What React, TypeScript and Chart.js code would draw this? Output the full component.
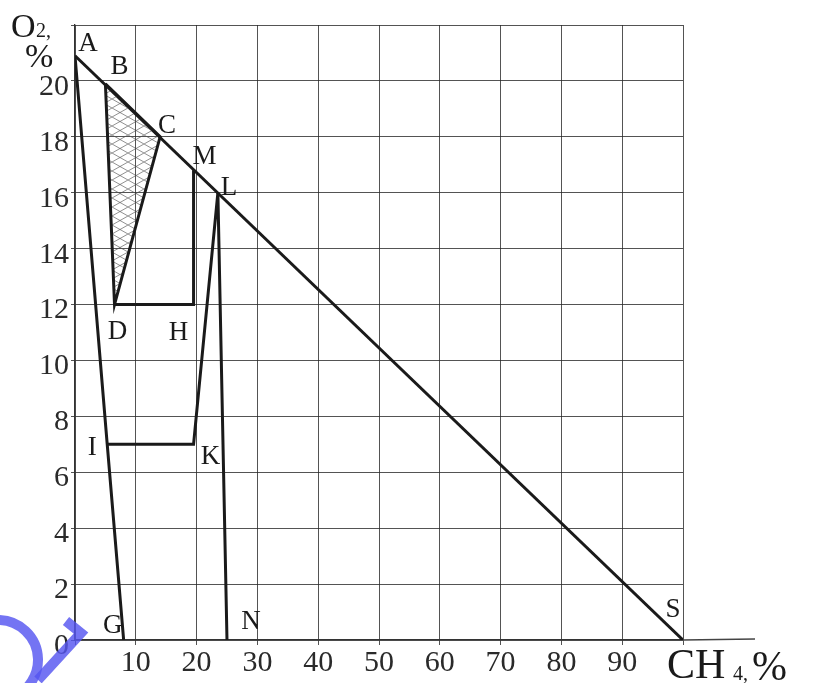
import { useEffect, useRef } from 'react';
import { Chart, registerables } from 'chart.js';

Chart.register(...registerables);

// ---- data (CH4 %, O2 %) ----
const pointNames = ['A', 'B', 'C', 'M', 'L', 'D', 'H', 'I', 'K', 'G', 'N', 'S'];
const ch4Percent = [0, 5, 14, 19.5, 23.5, 6.5, 19.5, 5.3, 19.5, 8, 25, 100];
const o2Percent = [20.9, 19.9, 18, 16.8, 16, 12, 12, 7, 7, 0, 0, 0];

// polylines through named points
const airLine = ['A', 'S'];
const lineAG = ['A', 'I', 'G'];
const explosiveTriangle = ['B', 'C', 'D', 'B'];
const lineDHM = ['D', 'H', 'M'];
const lineIKLN = ['I', 'K', 'L', 'N'];

// tick labels
const xTickLabels = [10, 20, 30, 40, 50, 60, 70, 80, 90];
const yTickLabels = [0, 2, 4, 6, 8, 10, 12, 14, 16, 18, 20];

// label placement (pixel offsets from the point)
const labelOffsets: Record<string, [number, number]> = {
  A: [13, -12], B: [14, -17], C: [7, -11], M: [11, -13], L: [11, -5],
  D: [3, 27], H: [-15, 28], I: [-15, 4], K: [17, 13], G: [-11, -14],
  N: [24, -18], S: [-10, -30],
};

const SERIF = '"Liberation Serif", "DejaVu Serif", serif';
const INK = '#1a1a1a';

function pts(names: string[]) {
  return names.map((n) => {
    const i = pointNames.indexOf(n);
    return { x: ch4Percent[i], y: o2Percent[i] };
  });
}

function makeHatch(): CanvasPattern | string {
  const c = document.createElement('canvas');
  const w = 16;
  const h = 9;
  c.width = w;
  c.height = h;
  const g = c.getContext('2d');
  if (!g) return 'rgba(0,0,0,0.1)';
  g.strokeStyle = 'rgba(80,80,80,0.7)';
  g.lineWidth = 0.9;
  g.beginPath();
  g.moveTo(0, 0); g.lineTo(w, h);
  g.moveTo(w, 0); g.lineTo(0, h);
  g.stroke();
  return g.createPattern(c, 'repeat') || 'rgba(0,0,0,0.1)';
}

const overlayPlugin = {
  id: 'overlay',
  afterDraw(chart: any) {
    const ctx = chart.ctx as CanvasRenderingContext2D;
    const xs = chart.scales.x;
    const ys = chart.scales.y;
    const area = chart.chartArea;
    ctx.save();

    // extension of the x axis line
    ctx.strokeStyle = '#444';
    ctx.lineWidth = 1.3;
    ctx.beginPath();
    ctx.moveTo(area.right, area.bottom);
    ctx.lineTo(area.right + 72, area.bottom - 1);
    ctx.stroke();

    // point labels
    ctx.fillStyle = INK;
    ctx.font = `27px ${SERIF}`;
    ctx.textAlign = 'center';
    ctx.textBaseline = 'middle';
    pointNames.forEach((n, i) => {
      const px = xs.getPixelForValue(ch4Percent[i]);
      const py = ys.getPixelForValue(o2Percent[i]);
      const off = labelOffsets[n] || [0, 0];
      ctx.fillText(n, px + off[0], py + off[1]);
    });

    // axis titles
    ctx.textAlign = 'left';
    ctx.textBaseline = 'alphabetic';
    ctx.font = `34px ${SERIF}`;
    ctx.fillText('O', 11, 37);
    ctx.font = `20px ${SERIF}`;
    ctx.fillText('2,', 36, 37);
    ctx.font = `34px ${SERIF}`;
    ctx.fillText('%', 25, 67);

    ctx.font = `42px ${SERIF}`;
    ctx.fillText('CH', 667, 678);
    ctx.font = `20px ${SERIF}`;
    ctx.fillText('4,', 733, 680);
    ctx.font = `42px ${SERIF}`;
    ctx.fillText('%', 752, 680);

    // watermark mark in the corner
    ctx.strokeStyle = 'rgba(85,85,240,0.82)';
    ctx.lineWidth = 10;
    ctx.lineCap = 'butt';
    ctx.beginPath();
    ctx.arc(-2, 660, 40, -1.6, 1.15);
    ctx.stroke();
    ctx.beginPath();
    ctx.moveTo(66, 621);
    ctx.lineTo(81, 633);
    ctx.lineTo(38, 680);
    ctx.stroke();

    ctx.restore();
  },
};

export default function App() {
  const ref = useRef<HTMLCanvasElement | null>(null);

  useEffect(() => {
    const canvas = ref.current;
    if (!canvas) return;
    const lineStyle = {
      showLine: true,
      borderColor: INK,
      borderWidth: 3,
      pointRadius: 0,
      pointHoverRadius: 0,
      tension: 0,
      fill: false,
    };
    const chart = new Chart(canvas, {
      type: 'scatter',
      data: {
        datasets: [
          { ...lineStyle, data: pts(explosiveTriangle), fill: 'shape', backgroundColor: makeHatch() },
          { ...lineStyle, data: pts(airLine) },
          { ...lineStyle, data: pts(lineAG) },
          { ...lineStyle, data: pts(lineDHM) },
          { ...lineStyle, data: pts(lineIKLN) },
        ] as any,
      },
      options: {
        animation: false,
        responsive: false,
        devicePixelRatio: 1,
        events: [],
        layout: { padding: { top: 25, right: 133, left: 0, bottom: 0 } },
        plugins: { legend: { display: false }, tooltip: { enabled: false } },
        scales: {
          x: {
            type: 'linear',
            min: 0,
            max: 100,
            ticks: {
              stepSize: 10,
              autoSkip: false,
              maxRotation: 0,
              padding: 0,
              color: '#2a2a2a',
              font: { family: SERIF, size: 30 },
              callback: (v: any) => (xTickLabels.includes(Number(v)) ? String(v) : ''),
            },
            grid: { color: 'rgba(40,40,40,0.8)', lineWidth: 1, tickLength: 5 },
            border: { color: '#333', width: 1.3 },
            afterFit: (s: any) => { s.height = 43; },
          },
          y: {
            type: 'linear',
            min: 0,
            max: 22,
            ticks: {
              stepSize: 2,
              autoSkip: false,
              padding: 2,
              labelOffset: 6,
              color: '#2a2a2a',
              font: { family: SERIF, size: 30 },
              callback: (v: any) => (yTickLabels.includes(Number(v)) ? String(v) : ''),
            },
            grid: { color: 'rgba(40,40,40,0.8)', lineWidth: 1, tickLength: 4 },
            border: { color: '#333', width: 1.3 },
            afterFit: (s: any) => { s.width = 75; },
          },
        },
      },
      plugins: [overlayPlugin],
    });
    return () => chart.destroy();
  }, []);

  return (
    <div style={{ position: 'absolute', left: 0, top: 0, width: 816, height: 683, background: '#fff' }}>
      <canvas ref={ref} width={816} height={683} style={{ width: 816, height: 683 }} />
    </div>
  );
}
